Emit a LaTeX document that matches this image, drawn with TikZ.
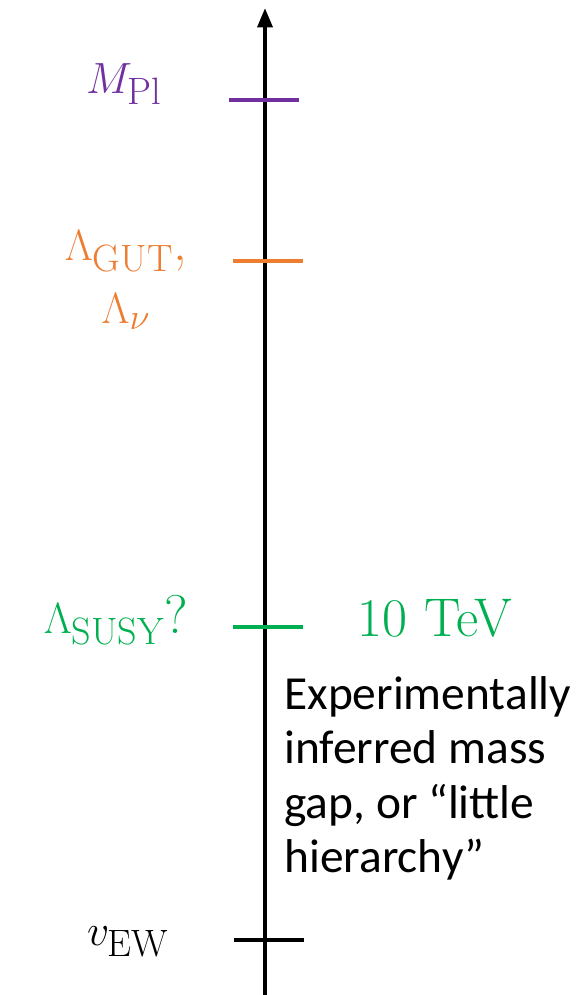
\documentclass[tikz,border=0pt]{standalone}
\usepackage{fontspec}
\newfontfamily\bodyfont{Carlito}
\usetikzlibrary{arrows.meta,positioning}
\definecolor{plpurple}{HTML}{7030A0}
\definecolor{gutorange}{HTML}{ED7D31}
\definecolor{susygreen}{HTML}{00B050}
\begin{document}
\begin{tikzpicture}[x=0.02cm, y=-0.02cm,
  scalemark/.style={line width=2.8pt},
  scalelabel/.style={inner sep=0pt, align=center, font=\fontsize{31}{36}\selectfont}
]
\useasboundingbox (0,0) rectangle (582,995);
% energy axis
\coordinate (axisbot) at (265,995);
\coordinate (axistop) at (265,8);
\draw[line width=2.3pt, -{Triangle[width=8.4pt, length=11pt]}] (axisbot) -- (axistop);
% scales
\draw[scalemark, plpurple] (229,100) -- (299,100);
\draw[scalemark, gutorange] (233,261) -- (303,261);
\draw[scalemark, susygreen] (233,627) -- (303,627);
\draw[scalemark] (234,940) -- (304,940);
% labels
\node[scalelabel, text=plpurple] (mpl) at (124,84) {$M_{\mathrm{Pl}}$};
\node[scalelabel, text=gutorange] (gut) at (126,280) {$\Lambda_{\mathrm{GUT}}$,\\[0pt]$\Lambda_{\nu}$};
\node[scalelabel, text=susygreen] (susy) at (116,620) {$\Lambda_{\mathrm{SUSY}}$?};
\node[scalelabel, text=susygreen] (tev) at (435,618) {10 TeV};
\node[scalelabel] (vew) at (128,942) {$v_{\mathrm{EW}}$};
\node[inner sep=0pt, anchor=north west, align=left, font=\bodyfont\fontsize{27}{31}\selectfont] (gap) at (284,676)
  {Experimentally\\inferred mass\\gap, or “little\\hierarchy”};
\end{tikzpicture}
\end{document}
